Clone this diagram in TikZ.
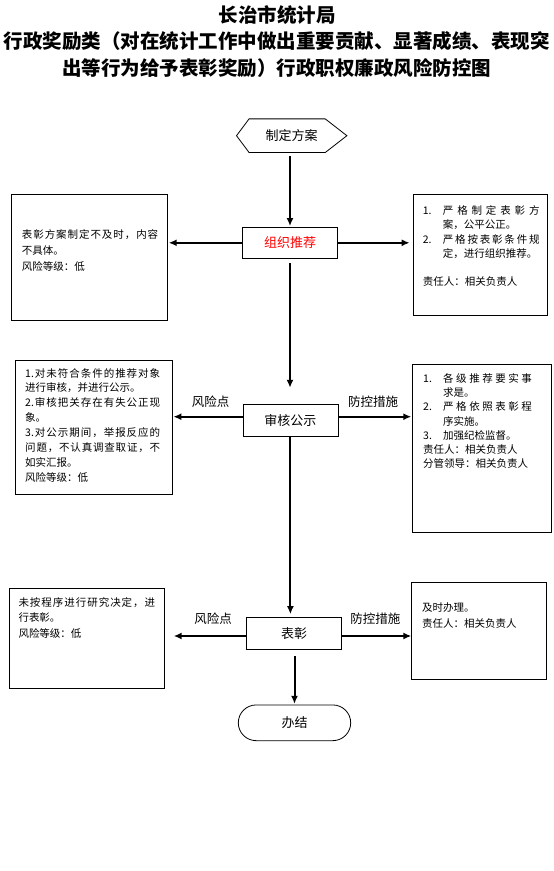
\documentclass[tikz,border=0pt]{standalone}
\usepackage{fontspec}
\setmainfont{Noto Sans CJK SC}
\usetikzlibrary{arrows.meta}
\def\sprdgob#1{}
\def\sprdA#1{#1\futurelet\sprdnext\sprdB}
\def\sprdB{\ifx\sprdnext\relax\expandafter\sprdgob\else\hfill\expandafter\sprdA\fi}
\newcommand\sprd[2]{\hbox to #1{\sprdA#2\relax}}
\newcommand\num[1]{\makebox[20pt][l]{#1}}
\newcommand\ind{\hspace*{20pt}}
\begin{document}
\begin{tikzpicture}[x=1pt,y=-1pt,
  sidebox/.style={draw=black, line width=0.8pt, inner sep=0pt},
  stepbox/.style={draw=black, line width=0.8pt, inner sep=0pt, minimum width=95pt, minimum height=31.5pt, font=\fontsize{13}{15}\selectfont},
  lbl/.style={inner sep=0pt, font=\fontsize{12.5}{14}\selectfont},
  body/.style={inner sep=0pt, align=left, anchor=north west},
  ttl/.style={inner sep=0pt, font=\bfseries\fontsize{19.5}{22}\selectfont},
  arr/.style={line width=2pt, -{Latex[length=8pt,width=7pt]}},
]
\useasboundingbox (0,0) rectangle (554,871);
% title
\node[ttl] (t1) at (277,15) {长治市统计局};
\node[ttl] (t2) at (277,41.5) {行政奖励类（对在统计工作中做出重要贡献、显著成绩、表现突};
\node[ttl] (t3) at (276.6,68) {出等行为给予表彰奖励）行政职权廉政风险防控图};
% main flow
\node[inner sep=0pt, minimum width=110pt, minimum height=33.3pt, font=\fontsize{13}{15}\selectfont] (hx) at (291.7,135.7) {制定方案};
\draw[line width=0.8pt] (hx.west) -- ([xshift=12.6pt]hx.north west) -- ([xshift=-21.7pt]hx.north east) -- (hx.east) -- ([xshift=-21.7pt]hx.south east) -- ([xshift=12.6pt]hx.south west) -- cycle;
\node[stepbox, text=red] (zz) at (290,242.8) {组织推荐};
\node[stepbox] (sh) at (290.4,420.2) {审核公示};
\node[stepbox] (bz) at (294.2,633.3) {表彰};
\node[draw=black, line width=0.8pt, inner sep=0pt, rounded corners=17.8pt, minimum width=112.4pt, minimum height=35.7pt, font=\fontsize{13}{15}\selectfont] (bj) at (294.5,722.8) {办结};
% side boxes
\node[sidebox, minimum width=155.6pt, minimum height=126pt] (L1) at (89.5,257) {};
\node[sidebox, minimum width=134pt, minimum height=121pt] (R1) at (480.3,254.5) {};
\node[sidebox, minimum width=157pt, minimum height=134pt] (L2) at (93.5,427) {};
\node[sidebox, minimum width=139pt, minimum height=168.7pt] (R2) at (482.2,448.3) {};
\node[sidebox, minimum width=155pt, minimum height=100pt] (L3) at (86.8,638.3) {};
\node[sidebox, minimum width=134.3pt, minimum height=97pt] (R3) at (478.9,630.5) {};
% box texts
\node[body, font=\fontsize{10.5}{15.7}\selectfont] (L1t) at (21.7,229.5) {\sprd{136.3pt}{表彰方案制定不及时，内容}\\不具体。\\风险等级：低};
\node[body, font=\fontsize{10.5}{14.2}\selectfont] (R1t) at (422.7,205.5) {\num{1.}\sprd{96.7pt}{严格制定表彰方}\\\ind 案，公平公正。\\\num{2.}\sprd{96.7pt}{严格按表彰条件规}\\\ind 定，进行组织推荐。\\[14.2pt]责任人：相关负责人};
\node[body, font=\fontsize{10.5}{14.86}\selectfont] (L2t) at (25,368) {\sprd{135pt}{{1.}对未符合条件的推荐对象}\\进行审核，并进行公示。\\\sprd{135pt}{{2.}审核把关存在有失公正现}\\象。\\\sprd{135pt}{{3.}对公示期间，举报反应的}\\\sprd{135pt}{问题，不认真调查取证，不}\\如实汇报。\\风险等级：低};
\node[body, font=\fontsize{10.5}{14.3}\selectfont] (R2t) at (423,373) {\num{1.}\sprd{88.7pt}{各级推荐要实事}\\\ind 求是。\\\num{2.}\sprd{88.7pt}{严格依照表彰程}\\\ind 序实施。\\\num{3.}加强纪检监督。\\责任人：相关负责人\\分管领导：相关负责人};
\node[body, font=\fontsize{10.5}{15.5}\selectfont] (L3t) at (18.3,597.3) {\sprd{136.7pt}{未按程序进行研究决定，进}\\行表彰。\\风险等级：低};
\node[body, font=\fontsize{10.5}{16}\selectfont] (R3t) at (422,602) {及时办理。\\责任人：相关负责人};
% labels
\node[lbl] (fx2) at (210.7,401.7) {风险点};
\node[lbl] (fk2) at (373,401.7) {防控措施};
\node[lbl] (fx3) at (213,619) {风险点};
\node[lbl] (fk3) at (375.4,619) {防控措施};
% connectors
\draw[arr] ([yshift=-3.7pt]hx.south -| zz.north) -- ([yshift=0.6pt]zz.north);
\draw[arr] ([yshift=-4.4pt]zz.south) -- ([yshift=16.3pt]zz.south |- sh.north);
\draw[arr] (sh.south) -- ([yshift=3pt]sh.south |- bz.north);
\draw[arr] ([yshift=-6.7pt]bz.south -| bj.north) -- ([yshift=0.7pt]bj.north);
\draw[arr] (zz.west) -- ([xshift=1pt]zz.west -| L1.east);
\draw[arr] (zz.east) -- ([xshift=-3.3pt]zz.east -| R1.west);
\draw[arr] ([yshift=3.5pt]sh.west) -- ([yshift=3.5pt,xshift=1pt]sh.west -| L2.east);
\draw[arr] ([yshift=3.5pt]sh.east) -- ([yshift=3.5pt,xshift=-1pt]sh.east -| R2.west);
\draw[arr] ([yshift=-2.7pt]bz.west) -- ([yshift=-2.7pt,xshift=9pt]bz.west -| L3.east);
\draw[arr] ([yshift=-2.7pt]bz.east) -- ([yshift=-2.7pt]bz.east -| R3.west);
\end{tikzpicture}
\end{document}
